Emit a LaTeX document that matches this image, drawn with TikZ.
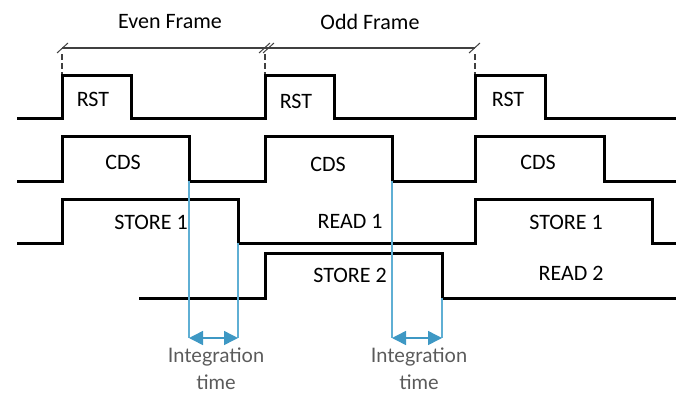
\documentclass[tikz,border=0pt]{standalone}
\usepackage{fontspec}
\setmainfont{Carlito}
\newfontfamily\gillfont{Lato}
\usetikzlibrary{arrows.meta, positioning}
\definecolor{lineblue}{RGB}{95,175,212}
\definecolor{arrowblue}{RGB}{62,152,196}
\definecolor{textgray}{RGB}{90,90,90}
\tikzset{
    wave/.style={line width=3pt, line join=miter},
    frame/.style={line width=1.2pt, black!75},
    tick/.style={line width=1pt, black!75},
    guide/.style={line width=1.3pt, lineblue},
    span/.style={line width=1.5pt, arrowblue,
        {Triangle[length=14pt,width=14pt]}-{Triangle[length=14pt,width=14pt]}},
    lbl/.style={font=\fontsize{22}{24}\selectfont, inner sep=0pt},
    inttext/.style={font=\gillfont\fontsize{20}{27}\selectfont, text=textgray,
        align=center, inner sep=0pt}
}

\begin{document}
\begin{tikzpicture}[x=1pt, y=-1pt]
        \useasboundingbox (0,0) rectangle (676,396);
        % frame marker
        \draw[frame] (62,48) -- (475,48);
        \draw[tick] (57,53) -- (68,43);
        \draw[tick] (259,53) -- (270,43);
        \draw[tick] (263,53) -- (274,43);
        \draw[tick] (469,53) -- (480,43);
        \foreach \x in {62,265,475}
            \draw[tick, dash pattern=on 6pt off 3pt, line width=1.6pt] (\x,54) -- (\x,74);
        \node[lbl] (even) at (170,22) {Even Frame};
        \node[lbl] (odd) at (370,22) {Odd Frame};
        % signals
        \draw[wave] (17,118) -- (62,118) -- (62,75) -- (131,75) -- (131,118) -- (265,118)
            -- (265,75) -- (334,75) -- (334,118) -- (475,118) -- (475,75) -- (545,75)
            -- (545,118) -- (676,118);
        \draw[wave] (17,181) -- (62,181) -- (62,136) -- (189,136) -- (189,181) -- (265,181)
            -- (265,136) -- (392,136) -- (392,181) -- (475,181) -- (475,136) -- (604,136)
            -- (604,181) -- (676,181);
        \draw[wave] (17,243) -- (62,243) -- (62,199) -- (238,199) -- (238,243) -- (475,243)
            -- (475,199) -- (652,199) -- (652,243) -- (676,243);
        \draw[wave] (139,298) -- (265,298) -- (265,253) -- (442,253) -- (442,298) -- (676,298);
        \node[lbl] (rst1) at (93,99) {RST};
        \node[lbl] (rst2) at (296,101) {RST};
        \node[lbl] (rst3) at (508,99) {RST};
        \node[lbl] (cds1) at (123,162) {CDS};
        \node[lbl] (cds2) at (328,164) {CDS};
        \node[lbl] (cds3) at (538,162) {CDS};
        \node[lbl] (store1a) at (151,222) {STORE 1};
        \node[lbl] (read1) at (350,221) {READ 1};
        \node[lbl] (store1b) at (566,222) {STORE 1};
        \node[lbl] (store2) at (350,275) {STORE 2};
        \node[lbl] (read2) at (571,273) {READ 2};
        % integration windows
        \coordinate (cdsA) at (189,181);
        \coordinate (stA) at (238,243);
        \coordinate (cdsB) at (392,181);
        \coordinate (stB) at (442,298);
        \coordinate (endA1) at (189,338);
        \coordinate (endA2) at (238,338);
        \coordinate (endB1) at (392,338);
        \coordinate (endB2) at (442,338);
        \draw[guide] (cdsA) -- (endA1);
        \draw[guide] (stA) -- (endA2);
        \draw[guide] (cdsB) -- (endB1);
        \draw[guide] (stB) -- (endB2);
        \draw[span] (endA1) -- (endA2);
        \draw[span] (endB1) -- (endB2);
        \node[inttext] (intA) at (216,369) {Integration\\time};
        \node[inttext] (intB) at (419,369) {Integration\\time};
    \end{tikzpicture}
\end{document}
